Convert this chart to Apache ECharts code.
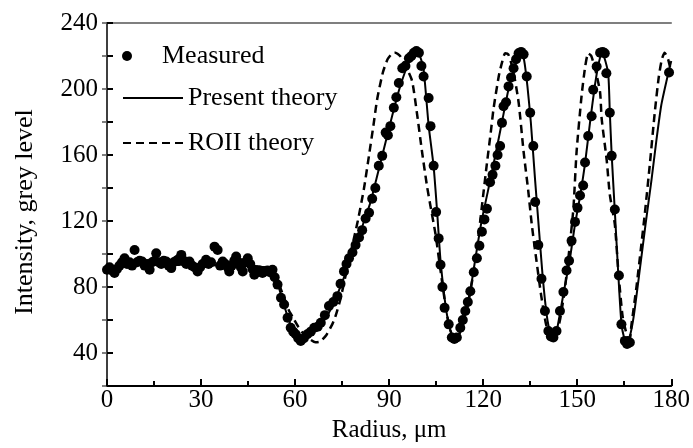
<!DOCTYPE html>
<html>
<head>
<meta charset="utf-8">
<script src="https://cdn.jsdelivr.net/npm/echarts@6/dist/echarts.min.js"></script>
<style>
  html, body { margin: 0; padding: 0; background: #fff; }
  #chart { width: 693px; height: 448px; }
</style>
</head>
<body>
<div id="chart"></div>
<script>
// values: [radius µm, grey level]
const measured = [
  [0, 90.5], [0.8, 92], [1.6, 90], [2.4, 88.5], [3.2, 91], [4, 93], [4.8, 95], [5.6, 97.5],
  [6.4, 94], [7.2, 95], [8, 93], [8.8, 102.5], [9.6, 95], [10.4, 96], [11.2, 95.5], [12, 93],
  [12.8, 94], [13.6, 90.5], [14.4, 95], [15.2, 96], [15.7, 100.5], [16.5, 95], [17.3, 94],
  [18.1, 96], [18.9, 95.5], [19.7, 93], [20.5, 91.5], [21.3, 95], [22.1, 96], [22.9, 97],
  [23.7, 99.5], [24.5, 96], [25.3, 94], [26.3, 95.5], [27.1, 93], [27.9, 92], [28.9, 89.5],
  [29.7, 92], [30.5, 94], [31.6, 96.5], [32.4, 94], [33.2, 95], [34.3, 104.5], [35.3, 102.5],
  [36.1, 93], [36.9, 95.5], [37.7, 94], [38.5, 92], [39, 89.5], [39.8, 93], [40.6, 96],
  [41.2, 98.5], [42, 95], [42.7, 92], [43.3, 89.5], [44.1, 95], [44.9, 97.5], [45.7, 94],
  [46.4, 91], [47, 87.5], [47.8, 89], [48.6, 90], [49.6, 88.5], [50.4, 89.5], [51.2, 90],
  [52, 89], [52.8, 90.5], [53.5, 86], [54.4, 81.5], [55.5, 73.5], [56.5, 69.4], [57.6, 61.4],
  [58.6, 55.4], [59.4, 53], [60.2, 51.4], [61, 49], [61.8, 47.4], [62.8, 49], [63.9, 51.4],
  [65, 53], [66.1, 55.4], [67.2, 56], [68.2, 58.4], [69.5, 63], [70.8, 68.5], [72.2, 71],
  [73.5, 74.5], [74.5, 82], [75.6, 89.5], [76.4, 94], [77.2, 97.5], [78.3, 101], [79.3, 105.5],
  [80.4, 110], [81.4, 114.5], [82.5, 121.5], [83.6, 125], [84.6, 133.5], [85.6, 140],
  [86.7, 153.5], [87.8, 159.5], [88.9, 173.6], [89.6, 172], [90.4, 177.5], [91.5, 188.6],
  [92.3, 195], [93.1, 203.6], [94.2, 212.6], [95.2, 214], [96.3, 218.6], [97.1, 220],
  [97.9, 222], [98.7, 223], [99.5, 222], [100.3, 214], [101, 207.6], [102.6, 194.6],
  [103.2, 177.5], [104.2, 153.5], [105, 125.5], [105.8, 109.5], [106.4, 93.5], [107, 80],
  [107.7, 67.4], [109, 57.4], [110, 49.4], [110.8, 48.5], [111.6, 49.4], [112.7, 55.4],
  [113.5, 60], [114.3, 65.5], [115.1, 71], [115.9, 77.5], [117, 89], [118, 97.5], [118.8, 105],
  [119.6, 113.5], [120.4, 121], [121.2, 127.5], [122.2, 143.5], [123, 148], [123.9, 153.5],
  [124.6, 160], [125.4, 165.5], [126, 179.5], [126.5, 189.6], [127.3, 192], [128.1, 201.6],
  [128.9, 207], [129.7, 212.6], [130.5, 218], [131.3, 221.6], [132.1, 222.5], [132.9, 221],
  [133.9, 207.6], [135, 185.6], [136, 165.5], [136.6, 131.5], [137.6, 105.5], [138.6, 85],
  [139.7, 65.5], [140.8, 53.4], [141.6, 50], [142.4, 49.4], [143.4, 53.4], [144.5, 65.5],
  [145.6, 77], [146.6, 90], [147.4, 96], [148.2, 108], [149.3, 119.5], [150.1, 128],
  [150.9, 135.5], [151.9, 141.5], [152.5, 155.5], [153.5, 171.5], [154.6, 183.5],
  [155.1, 199.6], [156.2, 213.6], [157.3, 222], [158.1, 222.5], [158.8, 221.6], [159.3, 209.6],
  [160.4, 185.6], [161, 159.5], [162, 127], [163.3, 87], [164.1, 57.4], [165.2, 47.4],
  [165.9, 45.5], [166.8, 46.4], [179.3, 210]
];

const presentTheory = [
  [0, 92], [5, 93], [10, 93.5], [20, 93.5], [30, 93.5], [40, 93], [45, 93], [50, 92],
  [52.5, 90.5], [54, 85], [56, 72], [58, 60], [60, 51], [61.8, 48], [63, 48.5], [65, 51],
  [67.7, 56], [70, 62], [72, 69], [74, 78], [76, 88], [78, 100], [80, 108], [82, 120],
  [84, 131], [86, 146], [88.9, 168], [91, 184], [93.1, 199], [95, 210], [96.3, 216],
  [98, 221.5], [98.9, 222.5], [100, 219], [101, 212], [102.6, 178], [104.2, 153],
  [105.3, 126], [106.4, 96], [108.2, 66], [109.5, 54], [110.6, 48.5], [111.6, 49], [113, 55],
  [114.5, 66], [116, 79], [117.5, 97], [119.5, 120], [121.5, 138], [123.9, 160], [126, 180],
  [128.1, 200], [130, 213], [131.8, 222], [133, 218], [134.1, 202], [135.2, 180],
  [136.6, 144], [138, 110], [139, 86], [140.2, 64], [141, 55], [141.8, 49.5], [142.6, 50],
  [143.5, 54], [144.5, 64], [146, 80], [147.5, 95], [149.3, 118], [150.9, 135], [152.5, 155],
  [154.1, 180], [155.7, 203], [156.8, 215], [157.8, 221.6], [158.5, 220], [159.9, 209],
  [160.4, 186], [161, 160], [162, 126], [163.1, 88], [164.1, 58], [165, 49], [165.7, 46.5],
  [166.5, 48], [168, 62], [170, 91], [171.8, 118], [173.7, 145], [175.2, 168], [176.8, 190],
  [178.5, 205], [180, 217]
];

const roiiTheory = [
  [0, 92.5], [10, 93.5], [20, 93.5], [30, 93.5], [40, 93], [50, 92], [52.5, 90.5], [54, 86],
  [56, 76], [58, 66], [59.2, 62], [61, 56], [63, 51], [65, 48], [66.5, 46.5], [68, 47],
  [70, 51], [72, 58], [73, 63], [74.5, 73], [76, 86], [78, 103], [80, 120], [82, 140],
  [83.6, 160], [85, 178], [86.2, 194], [88, 210], [89.5, 218], [91, 221.6], [92, 222],
  [93.5, 220], [95, 215], [97.3, 205], [98.9, 185], [100.5, 162], [102.1, 141], [103.2, 129],
  [104.8, 112], [106.4, 90], [108.2, 66], [109.5, 54], [110.8, 49], [112, 50], [113.5, 57],
  [115, 68], [116.5, 84], [118, 103], [119.6, 129], [121.2, 155], [122.5, 175], [123.3, 188],
  [125, 208], [126, 216], [127, 221.6], [128, 221], [129.5, 212], [131.3, 192], [132.9, 162],
  [134.4, 138], [135.5, 118], [137, 96], [138.5, 75], [140, 58], [141.3, 50], [142.3, 49],
  [143.3, 51], [144.5, 60], [146, 78], [147.5, 103], [148.8, 128], [149.8, 162],
  [151.4, 196], [152.5, 213], [153.5, 221.6], [154.5, 220], [156, 210], [157.3, 198],
  [157.8, 182], [159.4, 157], [160.4, 136], [162, 118], [163.1, 90], [164.5, 62], [166, 50],
  [166.8, 49], [167.3, 57], [168.9, 80], [170.3, 103], [171.6, 125], [173.2, 155],
  [174.7, 185], [176, 207], [177, 218], [177.9, 222], [179, 218], [180, 210]
];

const font = "Liberation Serif";

const chart = echarts.init(document.getElementById("chart"), null, { renderer: "canvas" });

const legendBase = {
  orient: "vertical",
  left: 122,
  padding: 0,
  itemWidth: 60,
  itemGap: 0,
  selectedMode: false,
  textStyle: { fontFamily: font, fontSize: 26, color: "#000" },
};

const options = {
  animation: false,
  backgroundColor: "#fff",
  grid: { left: 107, right: 20, top: 23, bottom: 59 },
  legend: [
    { ...legendBase, top: 43, itemHeight: 10, data: ["Measured"] },
    {
      ...legendBase,
      top: 85,
      itemHeight: 14,
      // line legends: hide the marker ECharts puts in the middle of the line
      itemStyle: { color: "transparent", borderWidth: 0 },
      data: ["Present theory"],
    },
    {
      ...legendBase,
      top: 130,
      itemHeight: 14,
      itemStyle: { color: "transparent", borderWidth: 0 },
      data: ["ROII theory"],
    },
  ],
  xAxis: [
    {
      type: "value",
      min: 0,
      max: 180,
      interval: 30,
      name: "Radius, \u03bcm",
      nameLocation: "middle",
      nameGap: 27,
      nameTextStyle: { fontFamily: font, fontSize: 25, color: "#000" },
      axisLine: { lineStyle: { color: "#000", width: 2 } },
      axisTick: { inside: true, length: 7, lineStyle: { color: "#000", width: 2 } },
      minorTick: { show: true, splitNumber: 2, length: 5, lineStyle: { color: "#000", width: 2 } },
      axisLabel: { fontFamily: font, fontSize: 25, color: "#000", margin: 2 },
      splitLine: { show: false },
    },
    {
      type: "value",
      position: "top",
      min: 0,
      max: 180,
      axisLine: { lineStyle: { color: "#555", width: 1.5 } },
      axisTick: { show: false },
      axisLabel: { show: false },
      splitLine: { show: false },
    },
  ],
  yAxis: [
    {
      type: "value",
      min: 20,
      max: 240,
      interval: 20,
      name: "Intensity, grey level",
      nameLocation: "middle",
      nameGap: 69,
      nameTextStyle: { fontFamily: font, fontSize: 26, color: "#000", padding: [0, 15, 0, 0] },
      axisLine: { show: true, lineStyle: { color: "#000", width: 2 } },
      axisTick: { inside: true, length: 6, lineStyle: { color: "#000", width: 2 } },
      axisLabel: {
        fontFamily: font,
        fontSize: 25,
        color: "#000",
        margin: 9,
        formatter: (value) => (value % 40 === 0 ? String(value) : ""),
      },
      splitLine: { show: false },
    },
    {
      type: "value",
      position: "right",
      min: 20,
      max: 240,
      interval: 20,
      axisLine: { show: true, lineStyle: { color: "#555", width: 1.5 } },
      axisTick: { inside: true, length: 5, lineStyle: { color: "#555", width: 1.5 } },
      axisLabel: { show: false },
      splitLine: { show: false },
    },
  ],
  series: [
    {
      name: "Present theory",
      type: "line",
      data: presentTheory,
      symbol: "none",
      smooth: 0.2,
      lineStyle: { color: "#000", width: 2 },
      itemStyle: { color: "#000" },
      z: 2,
    },
    {
      name: "ROII theory",
      type: "line",
      data: roiiTheory,
      symbol: "none",
      smooth: 0.2,
      lineStyle: { color: "#000", width: 2.5, type: [8, 5] },
      itemStyle: { color: "#000" },
      z: 2,
    },
    {
      name: "Measured",
      type: "scatter",
      data: measured,
      symbol: "circle",
      symbolSize: 10,
      itemStyle: { color: "#000", opacity: 1 },
      z: 3,
    },
  ],
};

chart.setOption(options);
</script>
</body>
</html>
